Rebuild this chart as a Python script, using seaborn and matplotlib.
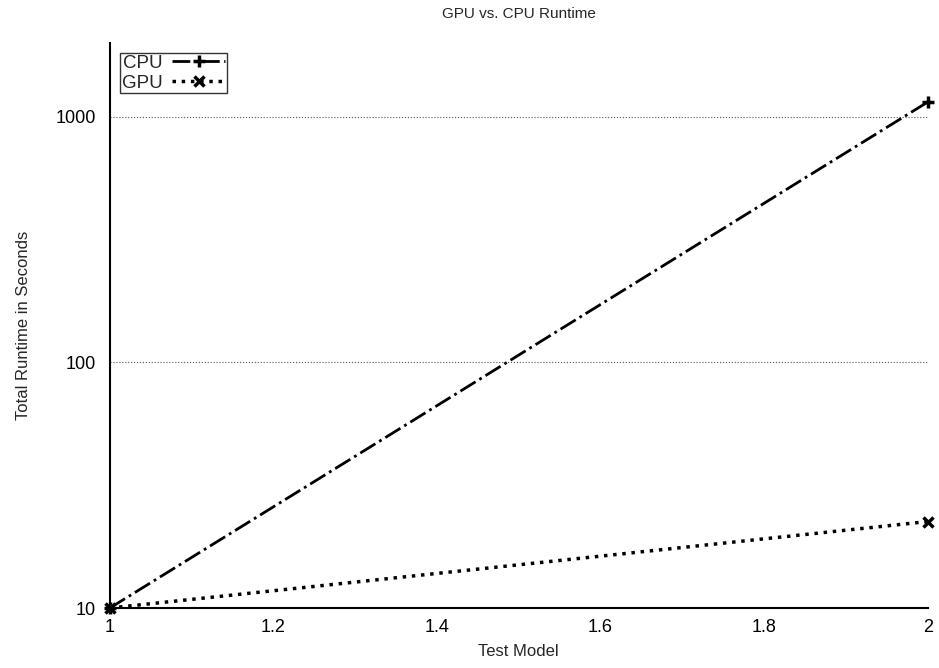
import numpy as np
import pandas as pd
import matplotlib
matplotlib.use("Agg")
import matplotlib.pyplot as plt
import matplotlib.ticker as mticker
import seaborn as sns

# ── data ──────────────────────────────────────────────
test_model = [1, 2]
cpu_runtime = [10, 1150]
gpu_runtime = [10, 22.5]

sns.set_theme(style="ticks")
plt.rcParams['font.family'] = ['Liberation Sans', 'DejaVu Sans']

fig, ax = plt.subplots(figsize=(9.39, 6.68), dpi=100)
fig.subplots_adjust(left=0.117, right=0.988, top=0.9356, bottom=0.0898)

sns.lineplot(x=test_model, y=cpu_runtime, ax=ax, color='black', linestyle='-.',
             linewidth=2, marker='+', markersize=8, markeredgewidth=2.5,
             markeredgecolor='black', label='CPU', clip_on=False)
sns.lineplot(x=test_model, y=gpu_runtime, ax=ax, color='black', linestyle=':',
             linewidth=2.5, marker='x', markersize=6.5, markeredgewidth=2.5,
             markeredgecolor='black', label='GPU', clip_on=False)

ax.set_yscale('log')
ax.set_xlim(1, 2)
ax.set_ylim(10, 2000)
ax.set_xticks([1, 1.2, 1.4, 1.6, 1.8, 2])
ax.xaxis.set_major_formatter(mticker.FuncFormatter(lambda v, _: f'{v:g}'))
ax.set_yticks([10, 100, 1000])
ax.yaxis.set_major_formatter(mticker.FuncFormatter(lambda v, _: f'{int(v)}'))
ax.yaxis.set_minor_locator(mticker.NullLocator())

ax.grid(axis='y', which='major', linestyle=':', color='#555555', linewidth=0.8)
ax.tick_params(axis='both', direction='in', length=0, labelsize=13, colors='black')
ax.tick_params(axis='y', pad=10)
ax.tick_params(axis='x', pad=8)

for s in ['top', 'right']:
    ax.spines[s].set_visible(False)
for s in ['left', 'bottom']:
    ax.spines[s].set_color('black')
    ax.spines[s].set_linewidth(1.5)

ax.set_title('GPU vs. CPU Runtime', fontsize=11, pad=18)
ax.set_xlabel('Test Model', fontsize=12, labelpad=6)
ax.set_ylabel('Total Runtime in Seconds', fontsize=12, labelpad=18)

leg = ax.legend(loc='upper left', bbox_to_anchor=(0.013, 0.983), markerfirst=False,
                fontsize=13.5, handlelength=2.8, frameon=True, fancybox=False,
                borderpad=0.1, labelspacing=0.15, handletextpad=0.5,
                borderaxespad=0)
leg.get_frame().set_edgecolor('black')
leg.get_frame().set_linewidth(1)

plt.savefig('out.png', dpi=100)
